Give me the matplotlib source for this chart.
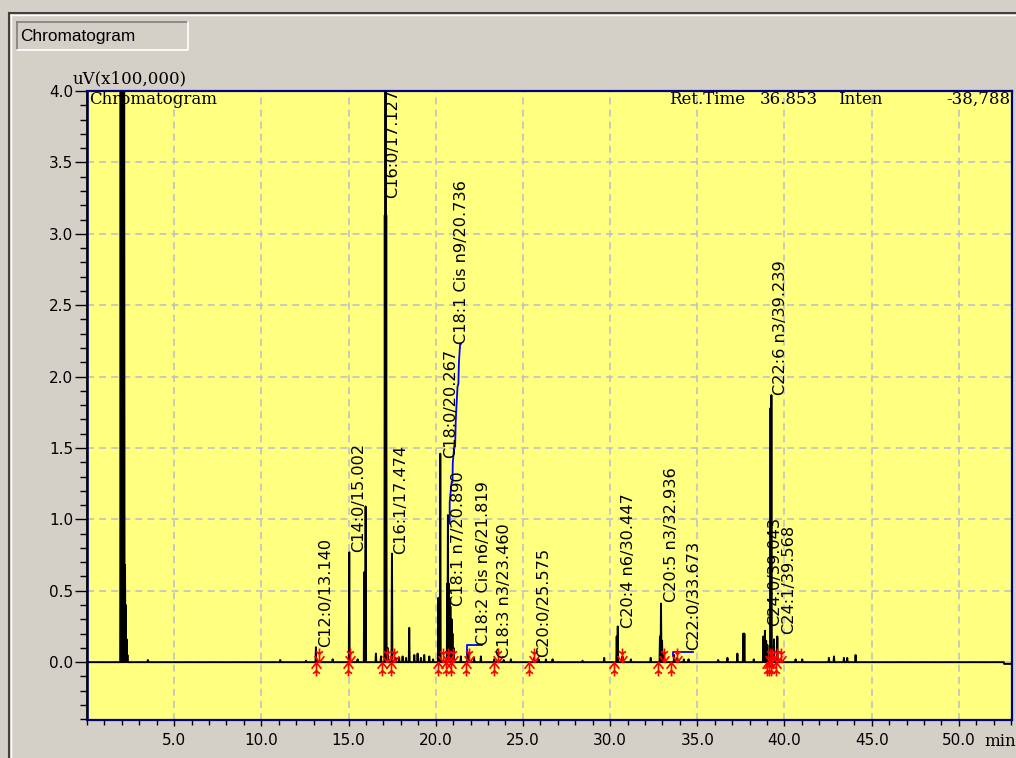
import matplotlib
matplotlib.use("Agg")
import matplotlib.pyplot as plt
from matplotlib.path import Path
from matplotlib.lines import Line2D
from matplotlib.ticker import MultipleLocator, FixedLocator

W, H = 1016, 758

# apex times (min) and heights (uV x100,000)
peak_times = [1.93, 1.97, 2.01, 2.05, 2.09, 2.13, 2.18, 2.22, 2.27, 2.32,
              3.49, 11.08, 12.56, 13.13, 14.09, 15.04, 15.52, 15.90, 15.94,
              15.98, 16.57, 16.86, 17.08, 17.12, 17.16, 17.24, 17.49, 17.70,
              17.90, 18.10, 18.30, 18.48, 18.77, 18.96, 19.15, 19.34, 19.63,
              19.85, 20.15, 20.19, 20.26, 20.66, 20.70, 20.74, 20.79, 20.84,
              20.91, 20.96, 21.02, 21.44, 21.83, 22.20, 22.59, 23.35, 23.90,
              24.31, 25.64, 25.90, 26.32, 26.70, 28.42, 29.66, 30.38, 30.44,
              30.71, 31.19, 32.33, 32.86, 32.92, 32.98, 33.10, 33.67, 33.85,
              34.23, 34.50, 36.20, 36.73, 37.30, 37.64, 37.70, 38.24, 38.79,
              38.88, 38.95, 39.02, 39.20, 39.25, 39.40, 39.59, 40.64, 41.02,
              42.55, 42.84, 43.41, 43.60, 44.08]
peak_heights = [4.5, 4.5, 4.5, 4.5, 4.5, 4.5, 0.68, 0.40, 0.16, 0.05,
                0.015, 0.015, 0.01, 0.105, 0.02, 0.77, 0.02, 0.63, 0.63,
                1.09, 0.06, 0.04, 3.13, 4.5, 3.13, 0.10, 0.76, 0.03,
                0.03, 0.04, 0.03, 0.24, 0.05, 0.06, 0.03, 0.05, 0.04,
                0.02, 0.45, 0.45, 1.46, 0.55, 1.03, 0.55, 0.45, 0.39,
                0.30, 0.20, 0.10, 0.04, 0.07, 0.03, 0.04, 0.02, 0.015,
                0.02, 0.03, 0.02, 0.02, 0.02, 0.01, 0.03, 0.18, 0.25,
                0.04, 0.02, 0.03, 0.18, 0.41, 0.15, 0.05, 0.05, 0.03,
                0.02, 0.02, 0.015, 0.03, 0.06, 0.20, 0.20, 0.02, 0.18,
                0.22, 0.15, 0.12, 1.78, 1.87, 0.16, 0.18, 0.02, 0.02,
                0.03, 0.04, 0.03, 0.03, 0.05]
trace_end_t = [52.58, 52.60, 53.05]
trace_end_y = [0.0, -0.012, -0.012]

# identified peaks and where their captions sit
peak_names = ["C12:0/13.140", "C14:0/15.002", "C16:0/17.127", "C16:1/17.474",
              "C18:0/20.267", "C18:1 Cis n9/20.736", "C18:1 n7/20.890",
              "C18:2 Cis n6/21.819", "C18:3 n3/23.460", "C20:0/25.575",
              "C20:4 n6/30.447", "C20:5 n3/32.936", "C22:0/33.673",
              "C22:6 n3/39.239", "C24:0/39.043", "C24:1/39.568"]
label_x = [13.67, 15.60, 17.55, 18.00, 20.87, 21.50, 21.33, 22.73, 23.97,
           26.17, 31.04, 33.50, 34.81, 39.78, 39.44, 40.24]
label_y = [0.105, 0.77, 3.25, 0.76, 1.43, 2.23, 0.39, 0.12, 0.03, 0.035,
           0.24, 0.42, 0.085, 1.87, 0.25, 0.20]

# integration start / end marks
start_t = [13.13, 14.95, 16.90, 17.44, 20.11, 20.58, 20.87, 21.73, 23.35,
           25.36, 30.23, 32.75, 33.52, 38.98, 39.10, 39.21, 39.49]
end_t = [13.32, 15.10, 17.20, 17.58, 20.40, 20.72, 20.97, 21.92, 23.55,
         25.65, 30.71, 33.09, 33.86, 39.15, 39.30, 39.59, 39.78]

# blue baseline segments
blue1_t = [20.74, 20.80, 20.80, 20.91, 20.96, 20.98, 21.06, 21.11, 21.15,
           21.25, 21.30, 21.33, 21.40, 21.45]
blue1_y = [0.97, 0.97, 1.12, 1.26, 1.26, 1.40, 1.51, 1.51, 1.70, 1.93,
           1.95, 2.10, 2.23, 2.23]
blue2_t = [21.82, 21.82, 22.68]
blue2_y = [0.06, 0.12, 0.12]
blue3_t = [33.63, 33.63, 34.78]
blue3_y = [0.04, 0.068, 0.068]

x_major = [5, 10, 15, 20, 25, 30, 35, 40, 45, 50]
x_labels = ["5.0", "10.0", "15.0", "20.0", "25.0", "30.0", "35.0", "40.0",
            "45.0", "50.0"]
y_major = [0.0, 0.5, 1.0, 1.5, 2.0, 2.5, 3.0, 3.5, 4.0]


def build_trace(times, heights, half_width=0.025):
    """Turn the apex list into one polyline along the baseline."""
    xs, ys = [0.0], [0.0]
    for t, h in sorted(zip(times, heights)):
        xs += [t - half_width, t, t + half_width]
        ys += [0.0, h, 0.0]
    return xs + trace_end_t, ys + trace_end_y


def fx(px):
    return px / W


def fy(py):
    return 1 - py / H


fig = plt.figure(figsize=(W / 100, H / 100), dpi=100, facecolor="#D4D0C8")

# window chrome
fig.add_artist(Line2D([fx(9), fx(W)], [fy(13), fy(13)], color="#404040", lw=1.5))
fig.add_artist(Line2D([fx(9), fx(9)], [fy(13), fy(H)], color="#404040", lw=1.5))
fig.add_artist(Line2D([fx(11), fx(W)], [fy(15), fy(15)], color="#FFFFFF", lw=1))
fig.add_artist(Line2D([fx(11), fx(11)], [fy(15), fy(H)], color="#FFFFFF", lw=1))
fig.add_artist(Line2D([fx(17), fx(188)], [fy(22), fy(22)], color="#808080", lw=1.2))
fig.add_artist(Line2D([fx(17), fx(17)], [fy(22), fy(50)], color="#808080", lw=1.2))
fig.add_artist(Line2D([fx(17), fx(188), fx(188)], [fy(50), fy(50), fy(22)],
                      color="#FFFFFF", lw=1.2))
fig.text(fx(20), fy(36), "Chromatogram", family="Liberation Sans", fontsize=12.4,
         va="center", ha="left", color="#000000")

ax = fig.add_axes([fx(87), fy(720), fx(1012) - fx(87), fy(91) - fy(720)])
ax.set_facecolor("#FFFF80")
ax.set_xlim(0, 53.05)
ax.set_ylim(-0.405, 4.0)

for x in x_major:
    ax.axvline(x, color="#BCBCCC", lw=1.1, ls=(0, (4.6, 3.3)), zorder=1)
for y in y_major:
    ax.axhline(y, color="#BCBCCC", lw=1.1, ls=(0, (4.6, 3.3)), zorder=1)
# inner navy edge on the left of the plot area
ax.axvline(0.08, color="#000080", lw=1.2, zorder=2)

tx, ty = build_trace(peak_times, peak_heights)
ax.plot(tx, ty, color="black", lw=1.4, zorder=3)

for bt, by in [(blue1_t, blue1_y), (blue2_t, blue2_y), (blue3_t, blue3_y)]:
    ax.plot(bt, by, color="#0000FF", lw=1.3, zorder=4)

codes = [Path.MOVETO, Path.LINETO, Path.MOVETO, Path.LINETO, Path.LINETO,
         Path.MOVETO, Path.LINETO, Path.LINETO]
up_arrow = Path([(0, -1), (0, 1), (-0.7, 0.1), (0, 1), (0.7, 0.1),
                 (-0.5, -0.6), (0, -0.2), (0.5, -0.6)], codes)
down_arrow = Path([(0, 1), (0, -1), (-0.7, -0.1), (0, -1), (0.7, -0.1),
                   (-0.5, 0.6), (0, 0.2), (0.5, 0.6)], codes)
ax.plot(start_t, [-0.048] * len(start_t), ls="none", marker=up_arrow,
        ms=10, mec="#FF0000", mfc="none", mew=1.2, zorder=5)
ax.plot(end_t, [0.05] * len(end_t), ls="none", marker=down_arrow,
        ms=10, mec="#FF0000", mfc="none", mew=1.2, zorder=5)

for name, lx, ly in zip(peak_names, label_x, label_y):
    ax.text(lx, ly, name, rotation=90, ha="center", va="bottom",
            family="DejaVu Sans", fontsize=11.6, color="black",
            clip_on=True, zorder=6)

# axes frame
for side in ["top", "right", "bottom"]:
    ax.spines[side].set_color("#000080")
    ax.spines[side].set_linewidth(1.6)
ax.spines["left"].set_color("black")
ax.spines["left"].set_linewidth(1.3)

ax.xaxis.set_major_locator(FixedLocator(x_major))
ax.xaxis.set_minor_locator(MultipleLocator(1))
ax.set_xticklabels(x_labels)
ax.yaxis.set_major_locator(FixedLocator(y_major))
ax.yaxis.set_minor_locator(MultipleLocator(0.1))
ax.set_yticklabels(["%.1f" % v for v in y_major])
ax.tick_params(axis="x", which="major", length=4.5, width=1, pad=5,
               labelsize=11, direction="out")
ax.tick_params(axis="x", which="minor", length=3.5, width=1, direction="out")
ax.tick_params(axis="y", which="major", length=9, width=1, pad=1,
               labelsize=11, direction="out")
ax.tick_params(axis="y", which="minor", length=5, width=1, direction="out")

# header texts
serif = "DejaVu Serif"
fig.text(fx(73), fy(79), "uV(x100,000)", family=serif, fontsize=12, va="center")
fig.text(fx(89), fy(99), "Chromatogram", family=serif, fontsize=12, va="center")
fig.text(fx(669), fy(99), "Ret.Time", family=serif, fontsize=12, va="center")
fig.text(fx(760), fy(99), "36.853", family=serif, fontsize=12, va="center")
fig.text(fx(838), fy(99), "Inten", family=serif, fontsize=12, va="center")
fig.text(fx(1010), fy(99), "-38,788", family=serif, fontsize=12, va="center",
         ha="right")
fig.text(fx(984), fy(742), "min", family=serif, fontsize=12, va="center")

fig.savefig("out.png", dpi=100, facecolor=fig.get_facecolor())
